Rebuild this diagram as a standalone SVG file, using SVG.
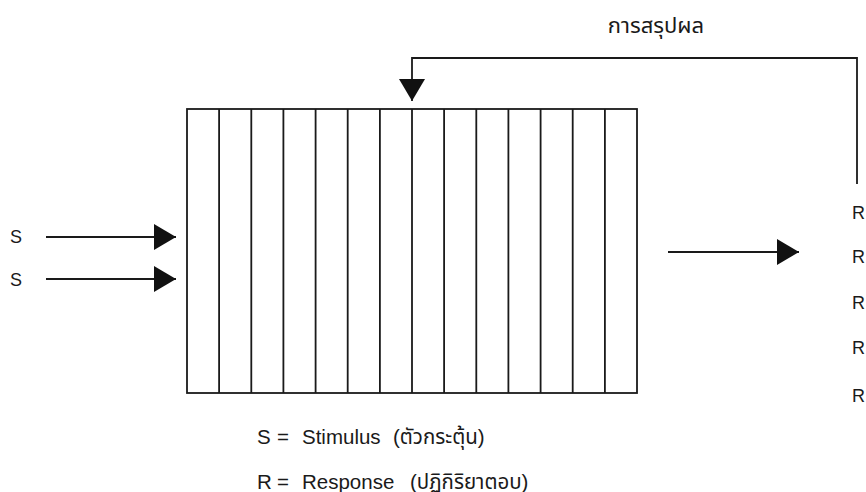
<svg xmlns="http://www.w3.org/2000/svg" width="866" height="492" viewBox="0 0 866 492">
<defs>
<style>
.ln{stroke:#1a1a1a;stroke-width:1.8;fill:none}
.tx{font-family:"Liberation Sans","Noto Sans Thai","Noto Sans",sans-serif;font-size:18px;fill:#1a1a1a}
.lg{font-size:20.5px}
.ti{font-size:22px}
</style>
<marker id="ah" markerUnits="userSpaceOnUse" markerWidth="24" markerHeight="26" refX="22" refY="13" orient="auto">
<path d="M0,0 L22,13 L0,26 Z" fill="#111"/>
</marker>
</defs>
<rect width="866" height="492" fill="#fff"/>
<g id="grid">
<rect class="ln" x="187" y="109" width="450" height="284"/>
<path class="ln" d="M219.1,109V393M251.3,109V393M283.4,109V393M315.6,109V393M347.7,109V393M379.9,109V393M412,109V393M444.1,109V393M476.3,109V393M508.4,109V393M540.6,109V393M572.7,109V393M604.9,109V393"/>
</g>
<g id="connectors">
<path class="ln" d="M857,184V58H412V101" marker-end="url(#ah)"/>
<path class="ln" d="M46,237H176" marker-end="url(#ah)"/>
<path class="ln" d="M46,279H176" marker-end="url(#ah)"/>
<path class="ln" d="M668,252H799" marker-end="url(#ah)"/>
</g>
<g id="labels">
<text class="tx ti" x="656" y="33" text-anchor="middle">การสรุปผล</text>
<text class="tx" x="10" y="243">S</text>
<text class="tx" x="10" y="286">S</text>
<text class="tx" x="852" y="219">R</text>
<text class="tx" x="852" y="263">R</text>
<text class="tx" x="852" y="309">R</text>
<text class="tx" x="852" y="354">R</text>
<text class="tx" x="852" y="402">R</text>
<text class="tx lg" y="444"><tspan x="257">S</tspan><tspan x="277">=</tspan><tspan x="302">Stimulus</tspan><tspan x="393">(ตัวกระตุ้น)</tspan></text>
<text class="tx lg" y="489"><tspan x="257">R</tspan><tspan x="277">=</tspan><tspan x="302">Response</tspan><tspan x="410">(ปฏิกิริยาตอบ)</tspan></text>
</g>
</svg>
